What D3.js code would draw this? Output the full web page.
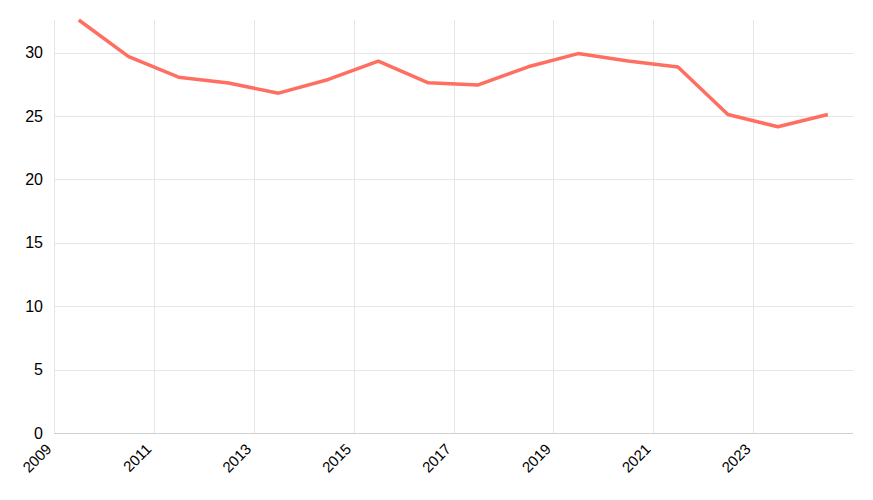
<!DOCTYPE html>
<html><head><meta charset="utf-8">
<script src="https://cdn.jsdelivr.net/npm/d3@7"></script>
<style>body{margin:0;background:#fff}svg{display:block}text{font-family:"Liberation Sans",Arial,sans-serif}</style>
</head><body><svg id="c" width="873" height="500"></svg>
<script>
const years = [2009,2010,2011,2012,2013,2014,2015,2016,2017,2018,2019,2020,2021,2022,2023,2024];
const values = [32.57,29.68,28.06,27.6,26.8,27.88,29.32,27.62,27.45,28.88,29.92,29.33,28.86,25.12,24.15,25.12];
const xTickLabels = ["2009","2011","2013","2015","2017","2019","2021","2023"];
const yTicks = [0,5,10,15,20,25,30];

const W=873,H=500,m={l:54,r:20,t:20,b:67};
const svg=d3.select("#c");
const x=d3.scaleTime().domain([new Date(2009,0,1),new Date(2025,0,1)]).range([m.l,W-m.r]);
const y=d3.scaleLinear().domain([0,d3.max(values)]).range([H-m.b,m.t]);
const data=years.map((yr,i)=>({d:new Date(yr,6,1),v:values[i]}));
const xt=xTickLabels.map(s=>new Date(+s,0,1));

// grid
svg.append("g").selectAll("line").data(yTicks).join("line")
  .attr("x1",m.l).attr("x2",W-m.r).attr("y1",d=>Math.round(y(d))+0.5).attr("y2",d=>Math.round(y(d))+0.5)
  .attr("stroke","#e6e6e6").attr("stroke-width",1);
svg.append("g").selectAll("line").data(xt).join("line")
  .attr("x1",d=>Math.round(x(d))+0.5).attr("x2",d=>Math.round(x(d))+0.5).attr("y1",m.t).attr("y2",H-m.b)
  .attr("stroke","#e6e6e6").attr("stroke-width",1);

// axes
const gx=svg.append("g").attr("transform",`translate(0,${H-m.b})`)
  .call(d3.axisBottom(x).tickValues(xt).tickFormat(d3.timeFormat("%Y")).tickSize(0).tickPadding(0));
gx.select(".domain").attr("stroke","#d0d0d0").attr("d",`M${m.l},0.5H${W-m.r}`);
gx.selectAll("text").attr("font-size",15).attr("fill","#000").attr("text-anchor","end")
  .attr("dy",0).attr("transform","translate(-2,17) rotate(-45)");

const gy=svg.append("g").attr("transform",`translate(${m.l},0)`)
  .call(d3.axisLeft(y).tickValues(yTicks).tickSize(0).tickPadding(11));
gy.select(".domain").remove();
gy.selectAll("text").attr("font-size",16).attr("fill","#000");

// line
svg.append("path").datum(data)
  .attr("fill","none").attr("stroke","#ff6f61").attr("stroke-width",3.5).attr("stroke-linejoin","round")
  .attr("d",d3.line().x(d=>x(d.d)).y(d=>y(d.v)));
</script></body></html>
